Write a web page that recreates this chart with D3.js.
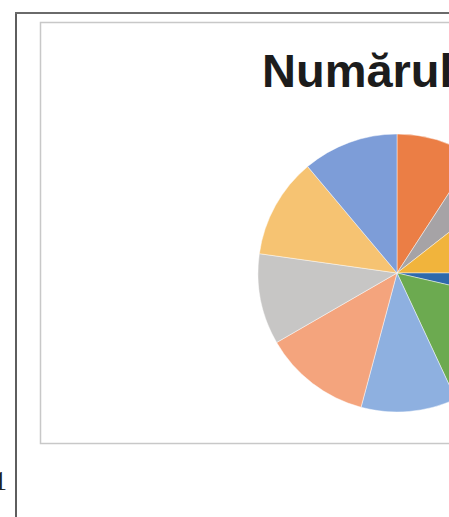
<!DOCTYPE html>
<html>
<head>
<meta charset="utf-8">
<script src="https://cdn.jsdelivr.net/npm/d3@7"></script>
<style>
html,body{margin:0;padding:0;background:#fff;overflow:hidden;}
svg{display:block;}
</style>
</head>
<body>
<svg id="chart" width="449" height="517"></svg>
<script>
const titleText = "Numărul";
const pageLabel = "1";
const categories = ["Categoria 1","Categoria 2","Categoria 3","Categoria 4","Categoria 5",
                    "Categoria 6","Categoria 7","Categoria 8","Categoria 9","Categoria 10"];
const values = [33, 19, 38, 13, 52, 40, 45, 38, 42, 40];
const colors = ["#EB7E45","#A6A3A6","#F1B43C","#2F69AC","#6CAA50",
                "#8EB0E0","#F4A47D","#C7C6C5","#F6C372","#7D9DD8"];

const svg = d3.select("#chart");
const W = 449, H = 517;

// outer frame (dark)
svg.append("line").attr("x1",16).attr("y1",13).attr("x2",16).attr("y2",H)
  .attr("stroke","#5e5e5e").attr("stroke-width",2);
svg.append("line").attr("x1",15).attr("y1",13).attr("x2",W).attr("y2",13)
  .attr("stroke","#6a6a6a").attr("stroke-width",2);

// inner chart border
svg.append("rect").attr("x",40.5).attr("y",22.5).attr("width",W).attr("height",421)
  .attr("fill","#fff").attr("stroke","#c8c8c8").attr("stroke-width",1.5);

// title
svg.append("text").attr("x",262).attr("y",87)
  .attr("font-family","'Liberation Sans', Arial, sans-serif")
  .attr("font-weight","bold").attr("font-size",47).attr("fill","#1c1c1c")
  .text(titleText);

// pie
const cx = 397, cy = 273, r = 139;
const color = d3.scaleOrdinal().domain(categories).range(colors);
const pie = d3.pie().sort(null).value(d => d.v);
const arc = d3.arc().innerRadius(0).outerRadius(r);
const data = categories.map((c,i) => ({c, v: values[i]}));
svg.append("g").attr("transform",`translate(${cx},${cy})`)
  .selectAll("path").data(pie(data)).join("path")
  .attr("d",arc).attr("fill",d => color(d.data.c))
  .attr("stroke","#ffffff").attr("stroke-opacity",0.45).attr("stroke-width",1);

// page number fragment
svg.append("text").attr("x",7).attr("y",490).attr("text-anchor","end")
  .attr("font-family","'Liberation Serif', 'DejaVu Serif', serif")
  .attr("font-size",27).attr("fill","#222").text(pageLabel);
</script>
</body>
</html>
